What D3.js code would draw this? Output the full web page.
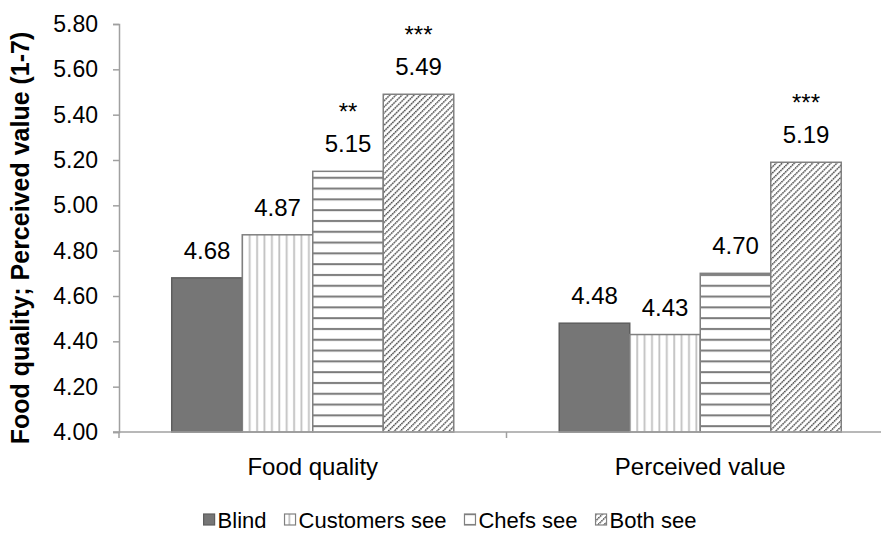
<!DOCTYPE html>
<html>
<head>
<meta charset="utf-8">
<script src="https://cdn.jsdelivr.net/npm/d3@7"></script>
<style>
  body { margin: 0; background: #fff; }
  svg { display: block; font-family: "Liberation Sans", Arial, Helvetica, sans-serif; }
</style>
</head>
<body>
<div id="chartArea"></div>
<script>
// data
var categories = ["Food quality", "Perceived value"];
var seriesNames = ["Blind", "Customers see", "Chefs see", "Both see"];
var foodQuality = [4.68, 4.87, 5.15, 5.49];
var perceivedValue = [4.48, 4.43, 4.70, 5.19];
var foodStars = ["", "", "**", "***"];
var valueStars = ["", "", "", "***"];
var yTicks = [4.0, 4.2, 4.4, 4.6, 4.8, 5.0, 5.2, 5.4, 5.6, 5.8];

var values = [foodQuality, perceivedValue];
var stars = [foodStars, valueStars];

var W = 881, H = 533;
var plotL = 119, plotR = 894, plotT = 24, plotB = 432;
var axisGrey = "#a0a0a0";

var svg = d3.select("#chartArea").append("svg")
    .attr("width", W)
    .attr("height", H);

// patterns
var defs = svg.append("defs");
var fills = ["#767676", "url(#pVert)", "url(#pHorz)", "url(#pDiag)"];

var pv = defs.append("pattern").attr("id", "pVert")
    .attr("patternUnits", "userSpaceOnUse").attr("width", 7.4).attr("height", 10);
pv.append("rect").attr("width", 7.4).attr("height", 10).attr("fill", "#fff");
pv.append("rect").attr("x", 4).attr("width", 1.8).attr("height", 10).attr("fill", "#c0c0c0");

var ph = defs.append("pattern").attr("id", "pHorz")
    .attr("patternUnits", "userSpaceOnUse").attr("width", 10).attr("height", 10.8);
ph.append("rect").attr("width", 10).attr("height", 10.8).attr("fill", "#fff");
ph.append("rect").attr("y", 4).attr("width", 10).attr("height", 2).attr("fill", "#7a7a7a");

// "/" hatch, slightly dotted
var pd = defs.append("pattern").attr("id", "pDiag")
    .attr("patternUnits", "userSpaceOnUse").attr("width", 4.3).attr("height", 2.4)
    .attr("patternTransform", "rotate(45)");
pd.append("rect").attr("width", 4.3).attr("height", 2.4).attr("fill", "#fff");
pd.append("rect").attr("x", 0).attr("width", 1.4).attr("height", 1.9).attr("fill", "#555");

// scales
var y = d3.scaleLinear().domain([4.0, 5.8]).range([plotB, plotT]);
var x0 = d3.scaleBand().domain(categories).range([plotL, plotR]).paddingInner(0).paddingOuter(0);
var x1 = d3.scaleBand().domain(seriesNames).range([0, x0.bandwidth()]).paddingInner(0).paddingOuter(0.748);

// y axis
var yAxis = d3.axisLeft(y).tickValues(yTicks).tickFormat(d3.format(".2f")).tickSize(6).tickPadding(15);
var gy = svg.append("g").attr("transform", "translate(" + plotL + ",0)").call(yAxis);
gy.select(".domain").attr("stroke", axisGrey).attr("stroke-width", 1.5);
gy.selectAll(".tick line").attr("stroke", axisGrey).attr("stroke-width", 1.5);
gy.selectAll(".tick text").attr("font-size", 23).attr("fill", "#000")
    .attr("font-family", "Liberation Sans, Arial, sans-serif");

// bars
var groups = svg.append("g").selectAll("g")
    .data(categories)
    .enter().append("g")
    .attr("transform", function (d) { return "translate(" + x0(d) + ",0)"; });

groups.selectAll("rect")
    .data(function (d, i) {
        return seriesNames.map(function (s, j) { return { s: s, j: j, v: values[i][j] }; });
    })
    .enter().append("rect")
    .attr("x", function (d) { return x1(d.s); })
    .attr("y", function (d) { return y(d.v); })
    .attr("width", x1.bandwidth())
    .attr("height", function (d) { return y(4.0) - y(d.v); })
    .attr("fill", function (d) { return fills[d.j]; })
    .attr("stroke", function (d) { return d.j == 0 ? "#5e5e5e" : "#808080"; })
    .attr("stroke-width", 1.5);

// value labels
groups.selectAll("text.val")
    .data(function (d, i) {
        return seriesNames.map(function (s, j) { return { s: s, v: values[i][j] }; });
    })
    .enter().append("text")
    .attr("class", "val")
    .attr("x", function (d) { return x1(d.s) + x1.bandwidth() / 2; })
    .attr("y", function (d) { return y(d.v) - 19; })
    .attr("text-anchor", "middle")
    .attr("font-size", 24)
    .text(function (d) { return d.v.toFixed(2); });

// significance stars
groups.selectAll("text.star")
    .data(function (d, i) {
        return seriesNames.map(function (s, j) { return { s: s, v: values[i][j], t: stars[i][j] }; });
    })
    .enter().append("text")
    .attr("class", "star")
    .attr("x", function (d) { return x1(d.s) + x1.bandwidth() / 2; })
    .attr("y", function (d) { return y(d.v) - 51; })
    .attr("text-anchor", "middle")
    .attr("font-size", 24)
    .text(function (d) { return d.t; });

// x axis
var gx = svg.append("g").attr("transform", "translate(0," + plotB + ")");
gx.append("line").attr("x1", plotL - 6).attr("x2", plotR).attr("stroke", axisGrey).attr("stroke-width", 1.5);
// boundary ticks between categories
gx.selectAll("line.bt")
    .data([plotL, x0(categories[1]), plotR])
    .enter().append("line")
    .attr("class", "bt")
    .attr("x1", function (d) { return d; }).attr("x2", function (d) { return d; })
    .attr("y1", 0).attr("y2", 6)
    .attr("stroke", axisGrey).attr("stroke-width", 1.5);
gx.selectAll("text.cat")
    .data(categories)
    .enter().append("text")
    .attr("class", "cat")
    .attr("x", function (d) { return x0(d) + x0.bandwidth() / 2; })
    .attr("y", 43)
    .attr("text-anchor", "middle")
    .attr("font-size", 24)
    .text(function (d) { return d; });

// y title
svg.append("text")
    .attr("transform", "translate(29," + 238 + ") rotate(-90)")
    .attr("text-anchor", "middle")
    .attr("font-size", 25)
    .attr("font-weight", "bold")
    .text("Food quality; Perceived value (1-7)");

// legend, laid out left to right then centred
var legend = svg.append("g");
var lx = 0, gap = 18;
seriesNames.forEach(function (s, j) {
    var item = legend.append("g").attr("transform", "translate(" + lx + ",0)");
    item.append("rect")
        .attr("x", 0).attr("y", -6).attr("width", 11).attr("height", 11)
        .attr("fill", fills[j])
        .attr("stroke", j == 0 ? "#5e5e5e" : "#808080")
        .attr("stroke-width", 1.2);
    var t = item.append("text")
        .attr("x", 14).attr("y", 8)
        .attr("font-size", 22)
        .text(s);
    lx += 14 + t.node().getComputedTextLength() + gap;
});
var legendW = lx - gap;
legend.attr("transform", "translate(" + (450 - legendW / 2) + ",520)");
</script>
</body>
</html>
